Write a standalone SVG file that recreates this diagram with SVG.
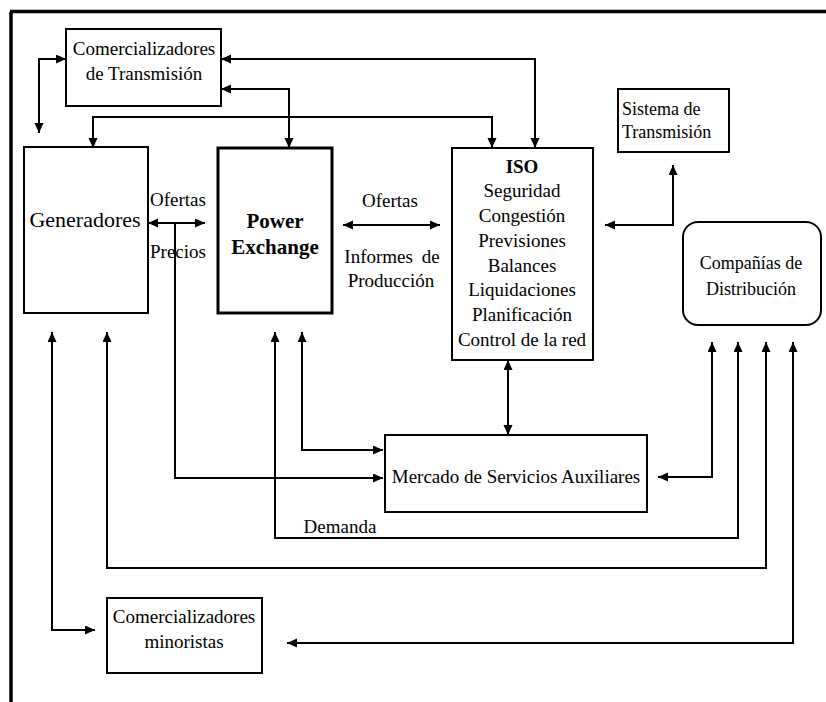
<svg xmlns="http://www.w3.org/2000/svg" width="826" height="702" viewBox="0 0 826 702">
<style>
text{font-family:"Liberation Serif","Times New Roman",serif;fill:#000}
.box{fill:#fff;stroke:#000;stroke-width:2}
.thick{stroke-width:3}
.c{text-anchor:middle}
.conn path{fill:none;stroke:#000;stroke-width:2}
.a2{marker-start:url(#ah);marker-end:url(#ah)}
.a1{marker-end:url(#ah)}
</style>
<defs>
<marker id="ah" markerUnits="userSpaceOnUse" markerWidth="11" markerHeight="10" refX="10" refY="4.5" orient="auto-start-reverse" viewBox="0 0 11 10">
<path d="M0,0 L10,4.5 L0,9 z" fill="#000"/>
</marker>
</defs>
<rect width="826" height="702" fill="#fff"/>
<g id="frame">
<path d="M10,11.5 H826 M11,11.5 V702" stroke="#000" stroke-width="3.5" fill="none"/>
</g>
<g class="conn" id="connectors">
<path class="a2" d="M66,59 H39 V133"/>
<path class="a2" d="M221,59 H535 V148"/>
<path class="a2" d="M221,89 H289 V148"/>
<path class="a2" d="M93,148 V117 H492 V148"/>
<path class="a2" d="M148,223 H205"/>
<path class="a1" d="M175,223 V478 H383"/>
<path class="a2" d="M343,225 H440"/>
<path class="a2" d="M605,225 H673 V165"/>
<path class="a2" d="M508,360 V435"/>
<path class="a2" d="M658,477 H712 V342"/>
<path class="a2" d="M275,332 V538 H738 V342"/>
<path class="a2" d="M107,332 V568 H766 V342"/>
<path class="a2" d="M287,643 H793 V342"/>
<path class="a2" d="M52,332 V630 H95"/>
<path class="a2" d="M302,332 V450 H383"/>
</g>
<g id="labels">
<text x="178" y="206" class="c" font-size="19">Ofertas</text>
<text x="178" y="258" class="c" font-size="19">Precios</text>
<text x="390" y="207" class="c" font-size="19">Ofertas</text>
<text x="392" y="263" class="c" font-size="19" word-spacing="4">Informes de</text>
<text x="391" y="287" class="c" font-size="19">Producción</text>
<text x="340" y="533" class="c" font-size="19">Demanda</text>
</g>
<g id="com-transmision">
<rect class="box" x="66" y="29" width="155" height="77"/>
<text x="144" y="55" class="c" font-size="19">Comercializadores</text>
<text x="144" y="80" class="c" font-size="19">de Transmisión</text>
</g>
<g id="generadores">
<rect class="box" x="24" y="147" width="124" height="166"/>
<text x="85" y="227" class="c" font-size="22">Generadores</text>
</g>
<g id="power-exchange">
<rect class="box thick" x="218" y="148" width="114" height="165"/>
<text x="275" y="228" class="c" font-size="21" font-weight="bold">Power</text>
<text x="275" y="254" class="c" font-size="21" font-weight="bold">Exchange</text>
</g>
<g id="iso">
<rect class="box" x="452" y="148" width="141" height="212" stroke-width="3.5"/>
<text x="522" y="173" class="c" font-size="19" font-weight="bold">ISO</text>
<text x="522" y="197" class="c" font-size="19">Seguridad</text>
<text x="522" y="222" class="c" font-size="19">Congestión</text>
<text x="522" y="247" class="c" font-size="19">Previsiones</text>
<text x="522" y="272" class="c" font-size="19">Balances</text>
<text x="522" y="296" class="c" font-size="19">Liquidaciones</text>
<text x="522" y="321" class="c" font-size="19">Planificación</text>
<text x="522" y="346" class="c" font-size="19">Control de la red</text>
</g>
<g id="sistema-transmision">
<rect class="box" x="618" y="89" width="111" height="63"/>
<text x="622" y="115" font-size="18">Sistema de</text>
<text x="622" y="138" font-size="18">Transmisión</text>
</g>
<g id="companias">
<rect class="box" x="683" y="222" width="138" height="103" rx="15" stroke-width="2.5"/>
<text x="751" y="269" class="c" font-size="18">Compañías de</text>
<text x="751" y="295" class="c" font-size="18">Distribución</text>
</g>
<g id="mercado">
<rect class="box" x="385" y="435" width="262" height="77"/>
<text x="516" y="483" class="c" font-size="19">Mercado de Servicios Auxiliares</text>
</g>
<g id="com-minoristas">
<rect class="box" x="107" y="598" width="155" height="75"/>
<text x="184" y="623" class="c" font-size="19">Comercializadores</text>
<text x="184" y="648" class="c" font-size="19">minoristas</text>
</g>
</svg>
